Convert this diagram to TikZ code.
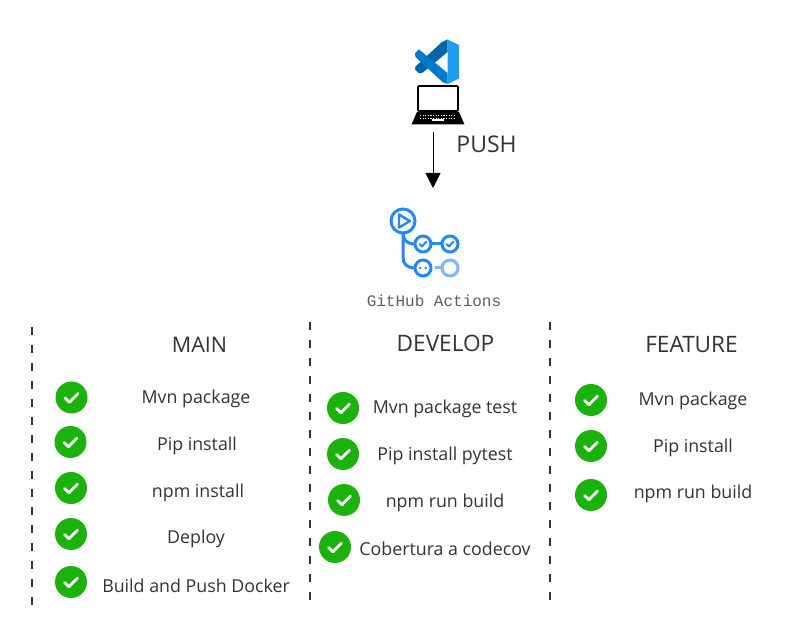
\documentclass[tikz,border=0pt]{standalone}
\usepackage{fontspec}
\setmainfont{Open Sans}
\newfontfamily\ghmono{Liberation Mono}
\usetikzlibrary{arrows.meta}
\definecolor{ink}{HTML}{333333}
\definecolor{okgreen}{HTML}{19B30B}
\definecolor{ghblue}{HTML}{2188FF}
\definecolor{ghlight}{HTML}{79B8FF}
\tikzset{
  x=1pt,y=-1pt,
  checkdot/.style={circle,fill=okgreen,draw=none,minimum size=32pt,inner sep=0pt,
    path picture={\draw[white,line width=2.8pt,line cap=round,line join=round]
      ([shift={(-6.5pt,-0.5pt)}]path picture bounding box.center) --
      ([shift={(-2pt,-4.8pt)}]path picture bounding box.center) --
      ([shift={(6.5pt,4pt)}]path picture bounding box.center);}},
  steptext/.style={text=ink,font=\fontsize{17.8}{21}\selectfont,inner sep=0pt,anchor=center},
  headtext/.style={text=ink,font=\fontsize{22.6}{26}\selectfont,inner sep=0pt,anchor=center},
  lane/.style={draw=ink,line width=1.5pt,dash pattern=on 8pt off 10pt},
  ghring/.style={circle,draw=ghblue,line width=3pt,inner sep=0pt,fill=white},
  ghlink/.style={ghblue,line width=3pt},
}
\begin{document}
\begin{tikzpicture}
\useasboundingbox (0,0) rectangle (807,628);
\fill[fill=white] (0,0) rectangle (807,628);
% VS Code logo
\fill[color={rgb,255:red,0;green,101;blue,169}] (447.5,39.5) -- (447.5,52) -- (423,72.5) -- (419,73.5) -- (415,69.5) -- (415.5,66.5) -- (442,42) -- cycle;
\fill[color={rgb,255:red,0;green,122;blue,204}] (419,49.5) -- (447.5,73) -- (447.5,84) -- (442.5,82) -- (415.5,57) -- (415,53.5) -- cycle;
\fill[color={rgb,255:red,30;green,156;blue,240}] (447.5,39.5) -- (459,45) -- (459,78.5) -- (447.5,84) -- cycle;
% Laptop
\node[draw=black,line width=1.6pt,rounded corners=1pt,minimum width=40pt,minimum height=25pt,inner sep=0pt] (screen) at (438,98.5) {};
\fill[black] (417,112) -- (459,112) -- (464.5,124.5) -- (411.5,124.5) -- cycle;
\foreach \yy in {115.5,118}
  \draw[white,line width=0.7pt,dash pattern=on 1.2pt off 1.4pt] (420,\yy) -- (456,\yy);
\fill[white] (432,119.5) rectangle (444,121.5);
% Push arrow
\coordinate (pushfrom) at (433,132);
\coordinate (pushto) at (433,188);
\draw[black,line width=1pt,-{Triangle[length=15pt,width=15pt]}] (pushfrom) -- (pushto);
\node[text=ink,font=\fontsize{23}{27}\selectfont,inner sep=0pt] (pushlabel) at (486.5,144) {PUSH};
% GitHub Actions logo
\draw[ghlink] (403,232) -- (403,233) .. controls (403,240) and (407,244) .. (415,244);
\draw[ghlink] (403,233) -- (403,257) .. controls (403,264) and (407,268) .. (415,268);
\draw[ghlink] (431,244) -- (442,244);
\draw[ghlight,line width=3pt] (435,268) -- (441,268);
\node[ghring,minimum size=24pt] (play) at (403,221) {};
\draw[ghblue,line width=2.4pt,line join=round] (399,214.5) -- (410,221) -- (399,227.5) -- cycle;
\node[ghring,minimum size=16pt] (ok1) at (423,244) {};
\node[ghring,minimum size=16pt] (ok2) at (450,244) {};
\node[ghring,minimum size=16pt] (wait) at (423,268) {};
\node[circle,draw=ghlight,line width=3pt,inner sep=0pt,minimum size=16pt] (todo) at (450,268) {};
\draw[ghblue,line width=2pt,line cap=round,line join=round] (419.5,244) -- (422,246.5) -- (426.5,241.5);
\draw[ghblue,line width=2pt,line cap=round,line join=round] (446.5,244) -- (449,246.5) -- (453.5,241.5);
\fill[ghblue] (420.2,268) circle (1.4pt) (425.8,268) circle (1.4pt);
\node[text={rgb,255:red,88;green,96;blue,105},font={\ghmono\fontsize{16}{18}\selectfont},inner sep=0pt] (ghname) at (434,301) {GitHub Actions};
% Lanes
\coordinate (laneAtop) at (32,327); \coordinate (laneAbot) at (32,606);
\coordinate (laneBtop) at (310,322); \coordinate (laneBbot) at (310,600);
\coordinate (laneCtop) at (550,322); \coordinate (laneCbot) at (550,602);
\draw[lane] (laneAtop) -- (laneAbot);
\draw[lane] (laneBtop) -- (laneBbot);
\draw[lane] (laneCtop) -- (laneCbot);
% Headers
\node[headtext,font=\fontsize{21.5}{26}\selectfont] (hmain) at (199.5,344.5) {MAIN};
\node[headtext] (hdev) at (445.5,343) {DEVELOP};
\node[headtext] (hfeat) at (691.5,345) {FEATURE};
% MAIN
\node[checkdot] (m1) at (71.5,397.5) {};
\node[checkdot] (m2) at (70.5,442) {};
\node[checkdot] (m3) at (71,488) {};
\node[checkdot] (m4) at (71,534) {};
\node[checkdot] (m5) at (71,582) {};
\node[steptext] (mt1) at (196,399) {Mvn package};
\node[steptext] (mt2) at (197,446) {Pip install};
\node[steptext] (mt3) at (198,493) {npm install};
\node[steptext] (mt4) at (196,539) {Deploy};
\node[steptext] (mt5) at (196,586) {Build and Push Docker};
% DEVELOP
\node[checkdot] (d1) at (343,408) {};
\node[checkdot] (d2) at (343,454) {};
\node[checkdot] (d3) at (344,500) {};
\node[checkdot] (d4) at (335,547) {};
\node[steptext] (dt1) at (445,409) {Mvn package test};
\node[steptext] (dt2) at (445,456) {Pip install pytest};
\node[steptext] (dt3) at (445,503) {npm run build};
\node[steptext] (dt4) at (445,549) {Cobertura a codecov};
% FEATURE
\node[checkdot] (f1) at (591,400) {};
\node[checkdot] (f2) at (591,446) {};
\node[checkdot] (f3) at (591,495) {};
\node[steptext] (ft1) at (693,401) {Mvn package};
\node[steptext] (ft2) at (693,448) {Pip install};
\node[steptext] (ft3) at (693,494) {npm run build};
\end{tikzpicture}
\end{document}
